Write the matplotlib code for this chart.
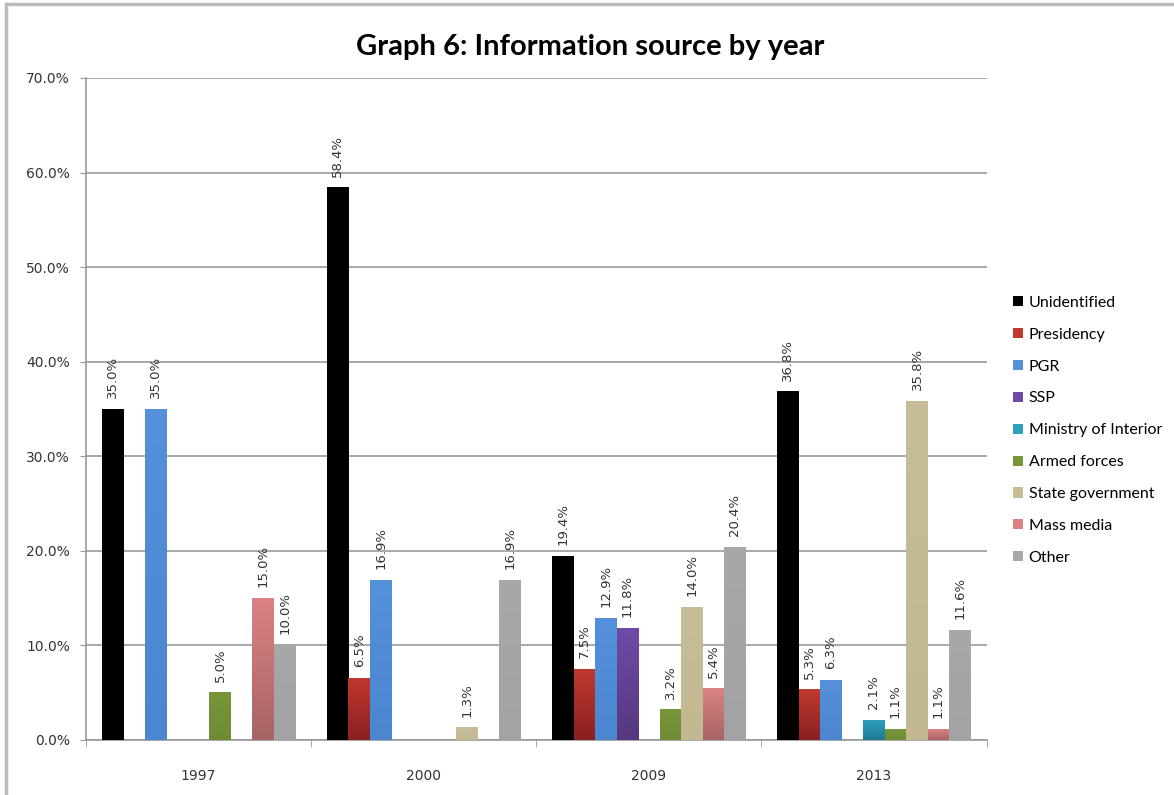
import numpy as np
import matplotlib.pyplot as plt
from matplotlib.colors import LinearSegmentedColormap
from matplotlib.lines import Line2D
from matplotlib.patches import Patch

plt.rcParams['font.family'] = ['Lato', 'DejaVu Sans']

# data (percent of reports per year)
years = ['1997', '2000', '2009', '2013']
sources = ['Unidentified', 'Presidency', 'PGR', 'SSP', 'Ministry of Interior',
           'Armed forces', 'State government', 'Mass media', 'Other']
unidentified = [35.0, 58.4, 19.4, 36.8]
presidency   = [0.0, 6.5, 7.5, 5.3]
pgr          = [35.0, 16.9, 12.9, 6.3]
ssp          = [0.0, 0.0, 11.8, 0.0]
ministry     = [0.0, 0.0, 0.0, 2.1]
armed        = [5.0, 0.0, 3.2, 1.1]
state_gov    = [0.0, 1.3, 14.0, 35.8]
mass_media   = [15.0, 0.0, 5.4, 1.1]
other        = [10.0, 16.9, 20.4, 11.6]
series = [unidentified, presidency, pgr, ssp, ministry,
          armed, state_gov, mass_media, other]

# (top colour, bottom colour) per series
colours = [('#000000', '#000000'),
           ('#C0392F', '#8A2020'),
           ('#5590DA', '#4C86D0'),
           ('#6E4BA6', '#553880'),
           ('#2DA0BC', '#1E7A92'),
           ('#77963A', '#6E8C34'),
           ('#C7BE98', '#C2B992'),
           ('#DB8282', '#A86464'),
           ('#A8A8A8', '#A3A3A3')]

small = dict(family='DejaVu Sans', fontsize=9.5, color='#333333')

fig = plt.figure(figsize=(11.74, 7.95), dpi=100)
ax = fig.add_axes([0.0733, 0.0692, 0.767, 0.8327])

n = len(series)
bw = 0.0956
x = np.arange(len(years))

for i, (vals, (ctop, cbot)) in enumerate(zip(series, colours)):
    cmap = LinearSegmentedColormap.from_list(f's{i}', [cbot, ctop])
    grad = np.linspace(0, 1, 64).reshape(-1, 1)
    for g, v in enumerate(vals):
        if v <= 0:
            continue
        xc = x[g] + (i - (n - 1) / 2) * bw
        ax.imshow(grad, extent=[xc - bw / 2, xc + bw / 2, 0, v], origin='lower',
                  aspect='auto', cmap=cmap, zorder=3, interpolation='bilinear')
        ax.annotate(f'{v:.1f}%', xy=(xc, v), xytext=(0, 8),
                    textcoords='offset points', rotation=90,
                    ha='center', va='bottom', **small)

ax.set_xlim(-0.5, len(years) - 0.5)
ax.set_ylim(0, 70)
ax.set_yticks(np.arange(0, 71, 10))
ax.set_yticklabels([f'{t:.1f}%' for t in range(0, 71, 10)],
                   family='DejaVu Sans', fontsize=10, color='#333333')
ax.yaxis.grid(True, color='#9A9A9A', linewidth=1.2, zorder=0)
ax.set_axisbelow(True)

ax.set_xticks(x)
ax.set_xticklabels(years, family='DejaVu Sans', fontsize=10, color='#333333')
ax.tick_params(axis='x', length=0, pad=21)
ax.set_xticks(np.arange(-0.5, len(years)), minor=True)
ax.tick_params(axis='x', which='minor', length=5, color='#9A9A9A')
ax.tick_params(axis='y', length=4.5, color='#9A9A9A', pad=7)

for side in ['top', 'right']:
    ax.spines[side].set_visible(False)
for side in ['left', 'bottom']:
    ax.spines[side].set_color('#9A9A9A')
    ax.spines[side].set_linewidth(1.2)

fig.text(0.503, 0.941, 'Graph 6: Information source by year',
         ha='center', va='center', fontsize=21, fontweight='bold')

handles = [Patch(facecolor=ct, edgecolor='none') for ct, _ in colours]
fig.legend(handles, sources, loc='upper left', bbox_to_anchor=(0.851, 0.646),
           frameon=False, fontsize=11.5, handlelength=0.6, handleheight=0.6,
           handletextpad=0.35, labelspacing=1.12)

# outer frame of the chart (top and left edges)
fig.add_artist(Line2D([6 / 1174, 1], [1 - 4 / 795, 1 - 4 / 795],
                      color='#BDBDBD', linewidth=2.5))
fig.add_artist(Line2D([6 / 1174, 6 / 1174], [0, 1 - 4 / 795],
                      color='#BDBDBD', linewidth=2.5))

plt.savefig('out.png', dpi=100)
